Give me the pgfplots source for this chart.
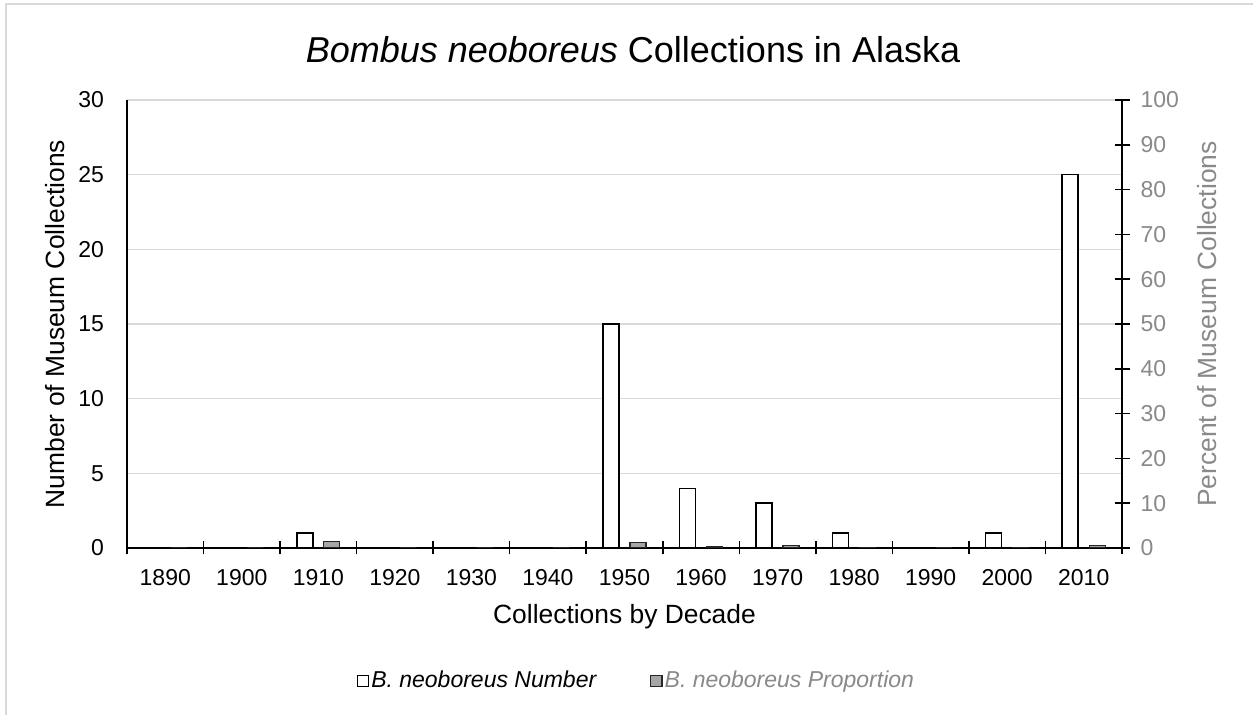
\documentclass[border=0pt]{standalone}
\usepackage{pgfplots}
\pgfplotsset{compat=1.18}
\usepackage{fontspec}
\setmainfont{Liberation Sans}
\definecolor{gridc}{HTML}{D9D9D9}
\definecolor{axgray}{HTML}{898989}
\definecolor{barg}{HTML}{A6A6A6}
\pgfplotsset{
  sqlegend/.style={/pgfplots/legend image code/.code={\draw[##1,line width=0.6pt] (1.2pt,-2.8pt) rectangle (6.8pt,2.8pt);}},
}
\begin{document}
\begin{tikzpicture}[x=1pt,y=1pt]
\path[use as bounding box] (0,0) rectangle (626.5,357.5);
\draw[gridc, line width=0.8pt] (3,0) -- (3,355.5) -- (626.5,355.5);
\begin{axis}[
  at={(63.5pt,83.5pt)}, anchor=south west, scale only axis,
  width=497.5pt, height=224pt,
  xmin=-0.5, xmax=12.5, ymin=0, ymax=30,
  axis y line*=left, axis x line*=bottom,
  axis line style={black, line width=0.75pt},
  xtick={0,...,12},
  xticklabels={1890,1900,1910,1920,1930,1940,1950,1960,1970,1980,1990,2000,2010},
  minor xtick={-0.5,0.5,...,12.5},
  major tick length=0pt, minor tick length=6.5pt, tick align=center,
  minor tick style={black, line width=0.75pt},
  ytick={0,5,...,30},
  ymajorgrids, grid style={gridc, line width=0.75pt},
  /pgf/number format/assume math mode=true,
  tick label style={font=\fontsize{11.5}{13}\selectfont},
  xticklabel style={yshift=-7pt},
  yticklabel style={xshift=-8pt},
  every axis y label/.style={at={(axis description cs:-0.0724,0.5)}, rotate=90, anchor=center, font=\fontsize{13.2}{15}\selectfont},
  every axis x label/.style={at={(axis description cs:0.5,-0.154)}, anchor=center, font=\fontsize{13.2}{15}\selectfont},
  ylabel={Number of Museum Collections},
  xlabel={Collections by Decade},
  title={\textit{Bombus neoboreus} Collections in Alaska},
  every axis title/.style={at={(axis description cs:0.5085,1.1116)}, anchor=center, font=\fontsize{18}{21}\selectfont},
]
\addplot[ybar, bar width=8pt, bar shift=-6.75pt, fill=white, draw=black, line width=0.75pt]
coordinates {(0,0) (1,0) (2,1) (3,0) (4,0) (5,0) (6,15) (7,4) (8,3) (9,1) (10,0) (11,1) (12,25)};
\end{axis}
\begin{axis}[
  at={(63.5pt,83.5pt)}, anchor=south west, scale only axis,
  width=497.5pt, height=224pt,
  xmin=-0.5, xmax=12.5, ymin=0, ymax=100,
  axis y line*=right, axis x line=none,
  axis line style={black, line width=0.75pt},
  ytick={0,10,...,100},
  major tick length=7.5pt, tick align=center,
  major tick style={black, line width=0.75pt},
  /pgf/number format/assume math mode=true,
  tick label style={font=\fontsize{11.5}{13}\selectfont, text=axgray},
  yticklabel style={xshift=2pt},
  every axis y label/.style={at={(axis description cs:1.0854,0.5)}, rotate=90, anchor=center, font=\fontsize{13.2}{15}\selectfont, text=axgray},
  ylabel={Percent of Museum Collections},
  legend style={at={(axis description cs:0.512,-0.297)}, anchor=center, draw=none, fill=none,
    legend columns=2, font=\fontsize{11.5}{13}\selectfont\itshape,
    /tikz/every even column/.append style={column sep=26pt},
    nodes={inner xsep=1pt},
    legend cell align=left},
]
\addlegendimage{sqlegend, fill=white, draw=black}
\addlegendentry{B. neoboreus Number}
\addplot[ybar, bar width=8pt, bar shift=6.75pt, fill=barg, draw=black!85, line width=0.6pt, sqlegend]
coordinates {(0,0) (1,0) (2,1.5) (3,0) (4,0) (5,0) (6,1.3) (7,0.4) (8,0.5) (9,0.1) (10,0) (11,0.1) (12,0.5)};
\addlegendentry{\textcolor{axgray}{B. neoboreus Proportion}}
\end{axis}
\end{tikzpicture}
\end{document}
